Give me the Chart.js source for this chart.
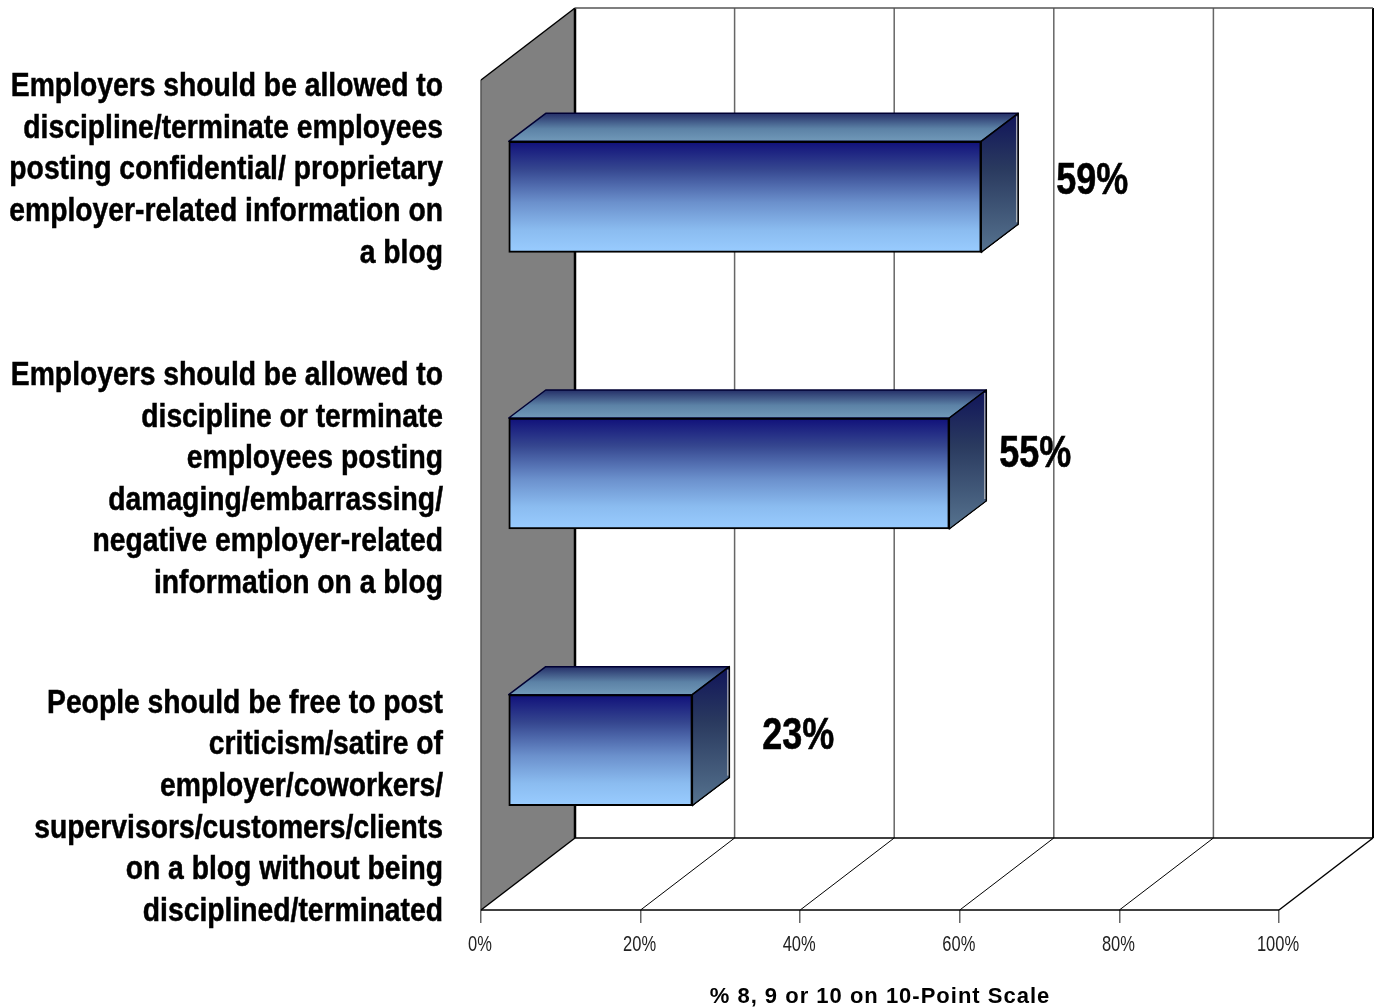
<!DOCTYPE html>
<html>
<head>
<meta charset="utf-8">
<style>
  body { margin: 0; background: #fff; }
  canvas { display: block; }
</style>
<script src="https://cdn.jsdelivr.net/npm/chart.js@4"></script>
</head>
<body>
<canvas id="myChart" width="1379" height="1008"></canvas>
<script>
'use strict';

const categories = [
  ['Employers should be allowed to', 'discipline/terminate employees', 'posting confidential/ proprietary', 'employer-related information on', 'a blog'],
  ['Employers should be allowed to', 'discipline or terminate', 'employees posting', 'damaging/embarrassing/', 'negative employer-related', 'information on a blog'],
  ['People should be free to post', 'criticism/satire of', 'employer/coworkers/', 'supervisors/customers/clients', 'on a blog without being', 'disciplined/terminated']
];
const values = [59.3, 55.3, 23.1];
const xTickLabels = ['0%', '20%', '40%', '60%', '80%', '100%'];
const axisTitle = '% 8, 9 or 10 on 10-Point Scale';

const FONT = "'Liberation Sans', Arial, sans-serif";
const WALL_DX = 94, WALL_DY = -72;   // depth of the whole box
const BAR_DX = 27, BAR_DY = -21.5;   // bars sit part way into the box
const FACE_DX = 37, FACE_DY = -28;   // depth of one bar
const BAR_H = 111;
// hand placed offsets, the original labels do not line up with the bars
const catLabelShift = [-48, -15, 36];
const valueLabelShift = [[111, -15], [86, -19], [106, -14]];

function line(ctx, x1, y1, x2, y2, color, w) {
  ctx.strokeStyle = color;
  ctx.lineWidth = w;
  ctx.beginPath();
  ctx.moveTo(x1, y1);
  ctx.lineTo(x2, y2);
  ctx.stroke();
}

function poly(ctx, pts, fill, stroke, w) {
  ctx.beginPath();
  pts.forEach((p, i) => i ? ctx.lineTo(p[0], p[1]) : ctx.moveTo(p[0], p[1]));
  ctx.closePath();
  ctx.fillStyle = fill;
  ctx.fill();
  if (stroke) {
    ctx.strokeStyle = stroke;
    ctx.lineWidth = w;
    ctx.lineJoin = 'round';
    ctx.stroke();
  }
}

// the original text is a condensed face, no such font here so squeeze it
function squeezedText(ctx, txt, x, y, sx, heavy) {
  ctx.save();
  ctx.translate(x, y);
  ctx.scale(sx, 1);
  ctx.fillText(txt, 0, 0);
  if (heavy) {
    ctx.strokeStyle = ctx.fillStyle;
    ctx.lineWidth = heavy;
    ctx.strokeText(txt, 0, 0);
  }
  ctx.restore();
}

const box3d = {
  id: 'box3d',
  beforeDraw(chart) {
    chart.ctx.letterSpacing = '1px'; // for the axis title
  },
  beforeDatasetsDraw(chart) {
    const ctx = chart.ctx;
    const a = chart.chartArea;
    const xs = chart.scales.x;
    ctx.save();
    // left wall
    poly(ctx, [[a.left, a.top], [a.left + WALL_DX, a.top + WALL_DY], [a.left + WALL_DX, a.bottom + WALL_DY], [a.left, a.bottom]], '#808080');
    line(ctx, a.left, a.top, a.left, a.bottom, '#555', 1.5);
    line(ctx, a.left, a.top, a.left + WALL_DX, a.top + WALL_DY, '#000', 1.5);
    line(ctx, a.left, a.bottom, a.left + WALL_DX, a.bottom + WALL_DY, '#000', 1.5);
    // back wall and floor lines
    xs.ticks.forEach((t, i) => {
      const px = xs.getPixelForValue(t.value);
      if (i > 0) {
        const last = i === xs.ticks.length - 1;
        line(ctx, px + WALL_DX, a.top + WALL_DY, px + WALL_DX, a.bottom + WALL_DY, last ? '#000' : '#666', last ? 2 : 1.5);
        line(ctx, px, a.bottom, px + WALL_DX, a.bottom + WALL_DY, '#000', last ? 1.5 : 1);
      }
    });
    line(ctx, a.left + WALL_DX, a.top + WALL_DY, a.left + WALL_DX, a.bottom + WALL_DY, '#000', 2.5);
    line(ctx, a.left + WALL_DX, a.top + WALL_DY, a.right + WALL_DX, a.top + WALL_DY, '#555', 1.5);
    line(ctx, a.left + WALL_DX, a.bottom + WALL_DY, a.right + WALL_DX, a.bottom + WALL_DY, '#000', 1.5);
    line(ctx, a.left, a.bottom, a.right, a.bottom, '#000', 1.5);

    // every bar sits at the same depth, so its chart element gets moved as a whole
    chart.getDatasetMeta(0).data.forEach(bar => {
      const x0 = bar.base + BAR_DX, x1 = bar.x + BAR_DX;
      const y0 = bar.y + BAR_DY - BAR_H / 2, y1 = bar.y + BAR_DY + BAR_H / 2;

      const topGrad = ctx.createLinearGradient(0, y0 + FACE_DY, 0, y0);
      topGrad.addColorStop(0, '#252f68');
      topGrad.addColorStop(0.55, '#5c82a6');
      topGrad.addColorStop(1, '#7199b9');
      poly(ctx, [[x0, y0], [x0 + FACE_DX, y0 + FACE_DY], [x1 + FACE_DX, y0 + FACE_DY], [x1, y0]], topGrad, '#000033', 1.5);

      const sideGrad = ctx.createLinearGradient(0, y0 + FACE_DY, 0, y1);
      sideGrad.addColorStop(0, '#10145a');
      sideGrad.addColorStop(0.4, '#2a3a5f');
      sideGrad.addColorStop(1, '#56738f');
      poly(ctx, [[x1, y0], [x1 + FACE_DX, y0 + FACE_DY], [x1 + FACE_DX, y1 + FACE_DY], [x1, y1]], sideGrad, '#000', 1.5);
      // light edge on the lower side
      line(ctx, x1 + 2, y1, x1 + FACE_DX, y1 + FACE_DY + 1.5, '#fff', 1);
      line(ctx, x1 + FACE_DX - 1.5, y0 + FACE_DY + 3, x1 + FACE_DX - 1.5, y1 + FACE_DY - 2, '#c8c8c8', 1);
    });
    ctx.restore();

    ctx.save();
    ctx.translate(BAR_DX, BAR_DY);
  },
  afterDatasetsDraw(chart) {
    const ctx = chart.ctx;
    ctx.restore();

    ctx.save();
    ctx.letterSpacing = '0px';
    ctx.fillStyle = '#000';
    ctx.textBaseline = 'middle';

    // value labels
    ctx.textAlign = 'center';
    ctx.font = 'bold 45px ' + FONT;
    chart.getDatasetMeta(0).data.forEach((bar, i) => {
      const txt = Math.round(values[i]) + '%';
      squeezedText(ctx, txt, bar.x + BAR_DX + valueLabelShift[i][0], bar.y + BAR_DY + valueLabelShift[i][1], 0.8, 0.6);
    });

    // category labels
    ctx.textAlign = 'right';
    ctx.font = 'bold 33px ' + FONT;
    const ys = chart.scales.y;
    categories.forEach((lines, i) => {
      const mid = ys.getPixelForTick(i) + catLabelShift[i];
      lines.forEach((txt, k) => {
        squeezedText(ctx, txt, 443, mid + (k - (lines.length - 1) / 2) * 41.6, 0.857, 0.5);
      });
    });

    // x tick labels
    ctx.textAlign = 'center';
    ctx.fillStyle = '#222';
    ctx.font = '22px ' + FONT;
    const xs = chart.scales.x;
    xs.ticks.forEach((t, i) => {
      squeezedText(ctx, xTickLabels[i], xs.getPixelForValue(t.value) - 1, 945, 0.75);
    });
    ctx.restore();
  }
};

function frontFill(c) {
  const chart = c.chart;
  if (!chart.chartArea) return '#6a8cc8';
  const mid = chart.scales.y.getPixelForValue(c.dataIndex);
  const g = chart.ctx.createLinearGradient(0, mid - BAR_H / 2, 0, mid + BAR_H / 2);
  g.addColorStop(0, '#10107a');
  g.addColorStop(0.25, '#35468f');
  g.addColorStop(0.55, '#6b90cc');
  g.addColorStop(0.8, '#8bbcf0');
  g.addColorStop(1, '#99ccff');
  return g;
}

new Chart(document.getElementById('myChart').getContext('2d'), {
  type: 'bar',
  data: {
    labels: categories,
    datasets: [{
      data: values,
      backgroundColor: frontFill,
      borderColor: '#000',
      borderWidth: 2,
      borderSkipped: false,
      barThickness: BAR_H
    }]
  },
  options: {
    indexAxis: 'y',
    responsive: false,
    animation: false,
    layout: { padding: { top: 80, right: 100 } },
    plugins: { legend: { display: false }, tooltip: { enabled: false } },
    scales: {
      x: {
        min: 0,
        max: 100,
        afterFit(scale) { scale.height = 98; },
        border: { display: false },
        grid: { drawOnChartArea: false, tickLength: 13, color: '#666', lineWidth: 1.5 },
        ticks: {
          display: false,
          stepSize: 20
        },
        title: {
          display: true,
          text: axisTitle,
          color: '#000',
          padding: 0,
          font: { family: FONT, size: 22, weight: 'bold', lineHeight: 1 }
        }
      },
      y: {
        afterFit(scale) { scale.width = 481; },
        border: { display: false },
        grid: { display: false },
        ticks: { display: false }
      }
    }
  },
  plugins: [box3d]
});
</script>
</body>
</html>
